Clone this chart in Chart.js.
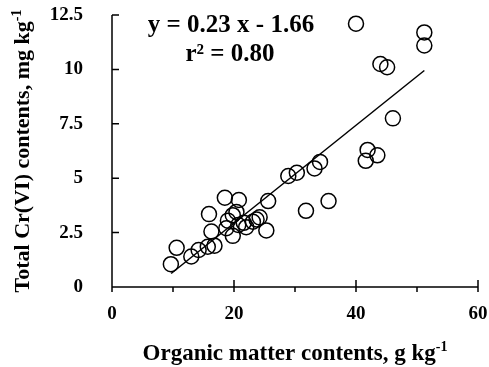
<!DOCTYPE html>
<html><head><meta charset="utf-8">
<script src="https://cdn.jsdelivr.net/npm/chart.js@4"></script>
<style>html,body{margin:0;padding:0;background:#fff}#wrap{width:489px;height:367px;position:relative}</style>
</head><body><div id="wrap"><canvas id="c"></canvas></div>
<script>
// ---- data ----
const organicMatter = [9.65, 10.6, 13.0, 14.2, 15.7, 16.8, 16.3, 15.9, 18.5, 20.8, 18.75, 19.0, 19.8, 20.4, 19.8, 20.7, 22.0, 21.6, 23.1, 23.7, 24.2, 25.3, 25.6, 28.9, 30.3, 31.8, 35.5, 33.2, 34.1, 41.6, 41.9, 43.5, 46.05, 44.0, 45.1, 40.0, 51.2, 51.2];
const crVI          = [1.05, 1.8, 1.4, 1.7, 1.85, 1.9, 2.55, 3.35, 4.1, 4.0, 2.7, 3.05, 3.3, 3.45, 2.35, 2.85, 2.75, 2.95, 3.0, 3.1, 3.2, 2.6, 3.95, 5.1, 5.25, 3.5, 3.95, 5.45, 5.75, 5.8, 6.3, 6.05, 7.75, 10.25, 10.1, 12.1, 11.7, 11.1];
const fitX = [9.7, 51.2];
const fitY = [0.62, 9.95];
const xMajorTicks = [0, 20, 40, 60];
const xMinorTicks = [10, 30, 50];
const yTicks = [0, 2.5, 5, 7.5, 10, 12.5];
const xTitle = "Organic matter contents, g kg";
const yTitle = "Total Cr(VI) contents, mg kg";
const unitSup = "-1";
const equationText = "y = 0.23 x - 1.66";
const r2Text = "r\u00B2 = 0.80";

const SERIF = '"Liberation Serif", "Times New Roman", serif';

const decorPlugin = {
  id: 'decor',
  afterDraw(chart) {
    const ctx = chart.ctx;
    const xs = chart.scales.x, ys = chart.scales.y;
    const x0 = xs.getPixelForValue(0), y0 = ys.getPixelForValue(0);
    ctx.save();
    ctx.strokeStyle = '#000';
    ctx.lineWidth = 1.5;
    ctx.lineCap = 'butt';
    ctx.beginPath();
    ctx.moveTo(x0, ys.getPixelForValue(yTicks[yTicks.length - 1]));
    ctx.lineTo(x0, y0);
    ctx.lineTo(xs.getPixelForValue(xMajorTicks[xMajorTicks.length - 1]), y0);
    yTicks.forEach(v => {
      const p = ys.getPixelForValue(v);
      ctx.moveTo(x0, p); ctx.lineTo(x0 + 7, p);
    });
    xMajorTicks.forEach(v => {
      const p = xs.getPixelForValue(v);
      ctx.moveTo(p, y0 - 7); ctx.lineTo(p, y0 + 5);
    });
    xMinorTicks.forEach(v => {
      const p = xs.getPixelForValue(v);
      ctx.moveTo(p, y0); ctx.lineTo(p, y0 + 5);
    });
    ctx.stroke();

    ctx.fillStyle = '#000';
    ctx.font = 'bold 25px ' + SERIF;
    ctx.textAlign = 'center';
    ctx.textBaseline = 'alphabetic';
    ctx.fillText(equationText, 231, 32);
    ctx.fillText(r2Text, 230, 61);

    const drawTitle = (text, cx, baseY, size) => {
      const supSize = Math.round(size * 0.62);
      ctx.font = 'bold ' + size + 'px ' + SERIF;
      const w1 = ctx.measureText(text).width;
      ctx.font = 'bold ' + supSize + 'px ' + SERIF;
      const w2 = ctx.measureText(unitSup).width;
      const start = cx - (w1 + w2) / 2;
      ctx.textAlign = 'left';
      ctx.font = 'bold ' + size + 'px ' + SERIF;
      ctx.fillText(text, start, baseY);
      ctx.font = 'bold ' + supSize + 'px ' + SERIF;
      ctx.fillText(unitSup, start + w1, baseY - size * 0.38);
    };
    const midX = (xs.left + xs.right) / 2;
    drawTitle(xTitle, midX, 360, 23);
    ctx.save();
    ctx.translate(29, (ys.top + ys.bottom) / 2);
    ctx.rotate(-Math.PI / 2);
    drawTitle(yTitle, 0, 0, 22);
    ctx.restore();
    ctx.restore();
  }
};

new Chart(document.getElementById('c'), {
  type: 'scatter',
  data: {
    datasets: [
      {
        label: 'Samples',
        data: organicMatter.map((x, i) => ({ x: x, y: crVI[i] })),
        pointStyle: 'circle',
        pointRadius: 7.5,
        pointHoverRadius: 7.5,
        pointBorderWidth: 1.5,
        pointBackgroundColor: 'rgba(0,0,0,0)',
        pointBorderColor: '#000',
        clip: false
      },
      {
        type: 'line',
        label: 'Fit',
        data: fitX.map((x, i) => ({ x: x, y: fitY[i] })),
        borderColor: '#000',
        borderWidth: 1.5,
        pointRadius: 0,
        fill: false,
        clip: false
      }
    ]
  },
  options: {
    responsive: true,
    maintainAspectRatio: false,
    animation: false,
    events: [],
    layout: { padding: { top: 15, right: 11, left: 0, bottom: 0 } },
    plugins: { legend: { display: false }, tooltip: { enabled: false } },
    scales: {
      x: {
        type: 'linear', min: 0, max: 60,
        afterFit(s) { s.height = 80; s.paddingLeft = 0; s.paddingRight = 0; },
        afterBuildTicks(s) { s.ticks = xMajorTicks.map(v => ({ value: v })); },
        grid: { display: false, drawTicks: false },
        border: { display: false },
        ticks: { padding: 16, color: '#000', font: { family: SERIF, size: 19, weight: 'bold' } }
      },
      y: {
        type: 'linear', min: 0, max: 12.5,
        afterFit(s) { s.width = 112; s.paddingTop = 0; s.paddingBottom = 0; },
        afterBuildTicks(s) { s.ticks = yTicks.map(v => ({ value: v })); },
        grid: { display: false, drawTicks: false },
        border: { display: false },
        ticks: { padding: 29, color: '#000', font: { family: SERIF, size: 19, weight: 'bold' } }
      }
    }
  },
  plugins: [decorPlugin]
});
</script>
</body></html>
